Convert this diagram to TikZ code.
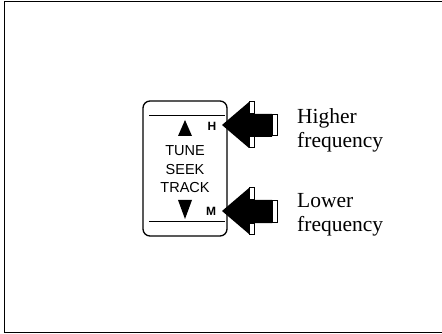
\documentclass[tikz,border=0pt]{standalone}
\usepackage{fontspec}
\setmainfont{Liberation Serif}
\setsansfont{Liberation Sans}
\usepackage{tikz}
\usetikzlibrary{positioning}

% block arrow pushing leftwards, tip at the given point
\newcommand{\pusharrow}[1]{%
  \begin{scope}[shift={(#1)}]
    \fill[black] (0,0) -- (27,-23) -- (27,-11) -- (50,-11) -- (50,12)
      -- (27,12) -- (27,23) -- cycle;
    \draw[edge, fill=white] (27,-23) rectangle (32,-11);
    \draw[edge, fill=white] (27,12) rectangle (32,23);
    \draw[edge, fill=white] (50,-10) rectangle (55,11);
  \end{scope}}

\begin{document}
\begin{tikzpicture}[x=1pt, y=-1pt]
  \tikzstyle{edge} = [line width=1pt]
  \tikzstyle{keytext} = [font=\sffamily\fontsize{14.5}{18.5}\selectfont,
      align=center, inner sep=0pt]
  \tikzstyle{bandmark} = [font=\sffamily\bfseries\fontsize{12}{12}\selectfont,
      inner sep=0pt]
  \tikzstyle{caption} = [font=\fontsize{21.5}{24}\selectfont, align=left,
      anchor=west, inner sep=0pt]

  \useasboundingbox (0,0) rectangle (442,334);
  % open frame, no right side
  \draw[edge] (442,2) -- (4,2) -- (4,332) -- (442,332);

  % the switch
  \draw[line width=1.3pt, rounded corners=7pt] (143,101) rectangle (227,236);
  \draw[edge] (149,116) -- (225,116);
  \draw[edge] (149,221) -- (225,221);
  \fill (185,120) -- (192,136) -- (178,136) -- cycle;
  \fill (185,219) -- (192,200) -- (178,200) -- cycle;

  \node (keys) [keytext]  at (185,169.5) {TUNE\\SEEK\\TRACK};
  \node (hi)   [bandmark] at (212,126) {H};
  \node (lo)   [bandmark] at (211,211) {M};

  % arrows towards H and M
  \pusharrow{222,125}
  \pusharrow{222,211}

  \node (hitext) [caption] at (297,130) {Higher\\frequency};
  \node (lotext) [caption] at (297,215) {Lower\\frequency};
\end{tikzpicture}
\end{document}
